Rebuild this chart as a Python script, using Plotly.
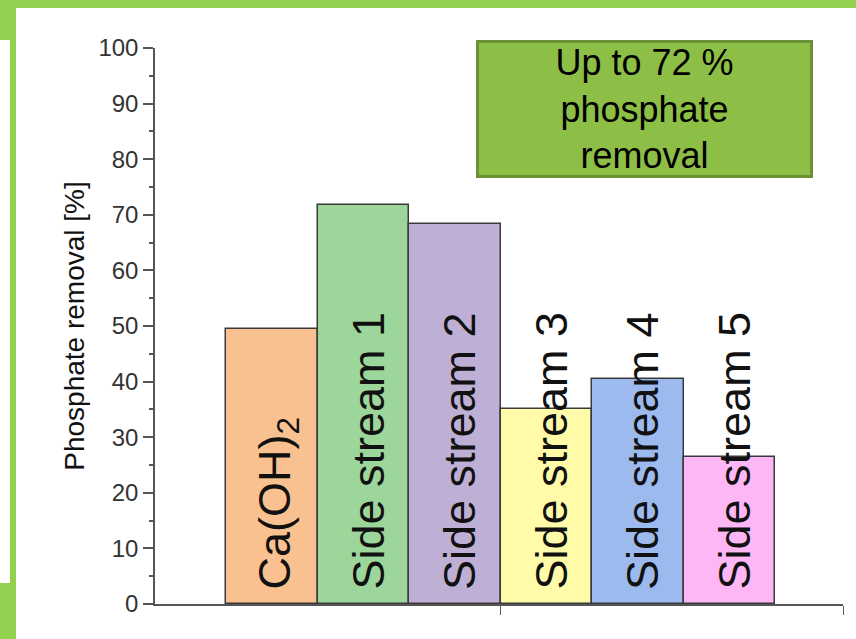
import plotly.graph_objects as go

categories = ["Ca(OH)<sub>2</sub>", "Side stream 1", "Side stream 2",
              "Side stream 3", "Side stream 4", "Side stream 5"]
removal = [49.5, 71.8, 68.3, 35.1, 40.5, 26.4]
colors = ["#F9C190", "#9DD69B", "#BEB0D5", "#FFFBA8", "#9DBAEE", "#FDB7F5"]
y_ticks = [0, 10, 20, 30, 40, 50, 60, 70, 80, 90, 100]
y_title = "Phosphate removal [%]"
box_text = "Up to 72 %<br>phosphate<br>removal"

W, H = 856, 639
L, R, T, B = 155, 843, 48, 604


def px(x):
    return (x - L) / (R - L)


def py(y):
    return (B - y) / (B - T)


FONT = "Arial, Liberation Sans, sans-serif"
xpos = list(range(len(categories)))

fig = go.Figure()
fig.add_trace(go.Bar(
    x=xpos, y=removal, width=1,
    marker=dict(color=colors, line=dict(color="#3a3a3a", width=1.5)),
    hovertext=categories, showlegend=False,
))

for i, c in enumerate(categories):
    fig.add_annotation(x=xpos[i], y=2.35, xref="x", yref="y", text=c,
                       textangle=-90, showarrow=False, xanchor="center",
                       yanchor="bottom", xshift=5, borderpad=0,
                       font=dict(family=FONT, size=45, color="#111"))

fig.add_annotation(x=px(644.5), y=py(109), xref="paper", yref="paper",
                   xanchor="center", yanchor="middle",
                   text=box_text, showarrow=False, width=331, height=132,
                   bgcolor="#8DBE45", bordercolor="#6B9136", borderwidth=3,
                   borderpad=0, font=dict(family=FONT, size=36, color="#000"))

green = "#92D050"
frame = [(0, 0, 856, 8), (0, 0, 16, 40), (10, 40, 16, 583), (0, 583, 16, 639)]
for x0, y0, x1, y1 in frame:
    fig.add_shape(type="rect", xref="paper", yref="paper",
                  x0=px(x0), x1=px(x1), y0=py(y1), y1=py(y0),
                  fillcolor=green, line=dict(width=0), layer="below")

fig.update_layout(
    width=W, height=H,
    margin=dict(l=L, r=W - R, t=T, b=H - B),
    paper_bgcolor="white", plot_bgcolor="white",
    bargap=0,
    xaxis=dict(range=[-1.28, 6.24], tickmode="array", tickvals=[2.5, 6.24],
               showticklabels=False, ticks="outside", ticklen=9,
               tickcolor="#555", showline=True, linecolor="#555",
               linewidth=1.5, showgrid=False, zeroline=False),
    yaxis=dict(range=[0, 100], tickmode="array", tickvals=y_ticks,
               ticks="outside", ticklen=10, tickwidth=1.5, tickcolor="#555",
               showline=True, linecolor="#555", linewidth=1.5,
               showgrid=False, zeroline=False,
               minor=dict(dtick=5, ticks="outside", ticklen=4,
                          tickcolor="#555", tickwidth=1.5),
               tickfont=dict(family=FONT, size=24, color="#333"),
               title=dict(text=y_title, standoff=6,
                          font=dict(family=FONT, size=28, color="#111"))),
)

fig.write_html("out.html", config={"displayModeBar": False},
               post_script="document.body.style.margin='0';"
                           "document.body.style.padding='0';")
